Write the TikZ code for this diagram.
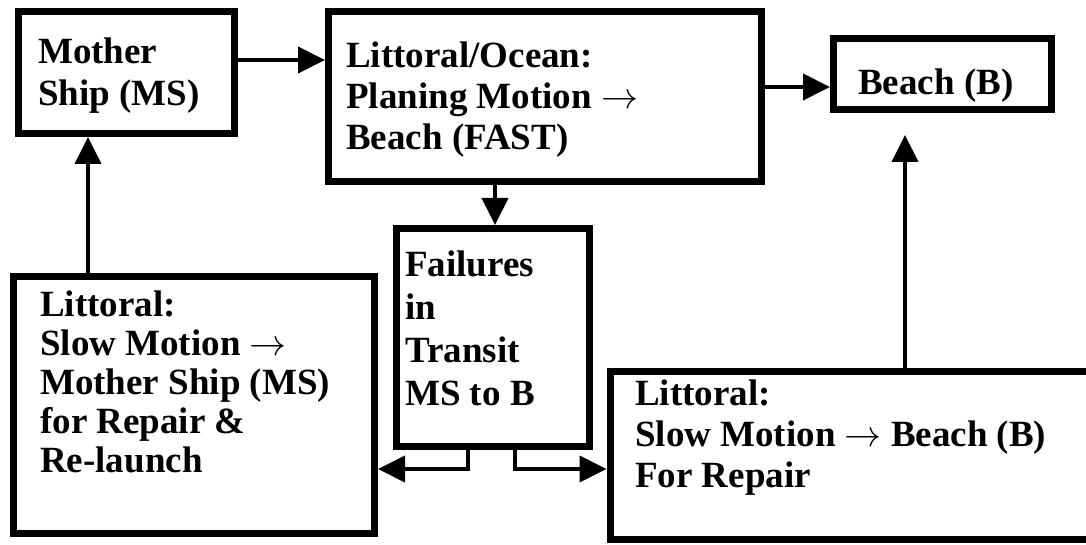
\RequirePackage{fix-cm}
\documentclass[tikz,border=0pt]{standalone}
\usepackage{fontspec}
\setmainfont{Liberation Serif}
\usetikzlibrary{arrows.meta,calc}
\begin{document}
\begin{tikzpicture}[x=1pt,y=-1pt,
  box/.style={draw=black,line width=7pt,rectangle,inner sep=0pt,fill=white},
  txt/.style={anchor=base west,align=left,inner sep=0pt,font=\fontsize{37}{38.5}\selectfont\bfseries},
  arr/.style={line width=4pt,-{Triangle[length=27pt,width=26pt]}},
  ln/.style={line width=4pt}]
\clip (0,0) rectangle (1086,545);
\fill[white] (0,0) rectangle (1086,545);
% boxes (outer edges in pixels)
\node[box,minimum width=216pt,minimum height=122pt] (ms) at (126.5,72.5) {};
\node[box,minimum width=433pt,minimum height=170pt] (lo) at (545,97) {};
\node[box,minimum width=218pt,minimum height=71pt] (beach) at (942.5,74) {};
\node[box,minimum width=193pt,minimum height=218pt] (fail) at (493,337.5) {};
\node[box,minimum width=361pt,minimum height=257pt] (left) at (194,405) {};
\node[box,minimum width=540pt,minimum height=168pt] (br) at (880,455.5) {};
% texts (anchor = baseline of the last line)
\node[txt,font=\fontsize{37}{42}\selectfont\bfseries] (tms) at (38,106) {Mother\\Ship (MS)};
\node[txt,font=\fontsize{37}{41}\selectfont\bfseries] (tlo) at (346,150) {Littoral/Ocean:\\Planing Motion $\rightarrow$\\Beach (FAST)};
\node[txt] (tb) at (858,95) {Beach (B)};
\node[txt,font=\fontsize{37}{43}\selectfont\bfseries] (tf) at (405,405) {Failures\\in\\Transit\\MS to B};
\node[txt,font=\fontsize{37}{39}\selectfont\bfseries] (tl) at (40,472) {Littoral:\\Slow Motion $\rightarrow$\\Mother Ship (MS)\\for Repair \&\\Re-launch};
\node[txt,font=\fontsize{37}{41}\selectfont\bfseries] (tbr) at (635,487) {Littoral:\\Slow Motion $\rightarrow$ Beach (B)\\For Repair};
% connectors
\draw[arr] (ms.east |- 0,60) -- (lo.west |- 0,60);
\draw[arr] (lo.east |- 0,87) -- (beach.west |- 0,87);
\draw[arr] (495,0 |- lo.south) -- (495,0 |- fail.north);
\draw[arr] (88,0 |- left.north) -- (88,0 |- ms.south);
\coordinate (bt) at ($(905,0 |- beach.south)+(0,22)$);
\draw[arr] (905,0 |- br.north) -- (bt);
\draw[arr] (468,0 |- fail.south) |- (left.east |- 0,469);
\draw[arr] (515,0 |- fail.south) |- (br.west |- 0,469);
\end{tikzpicture}
\end{document}
